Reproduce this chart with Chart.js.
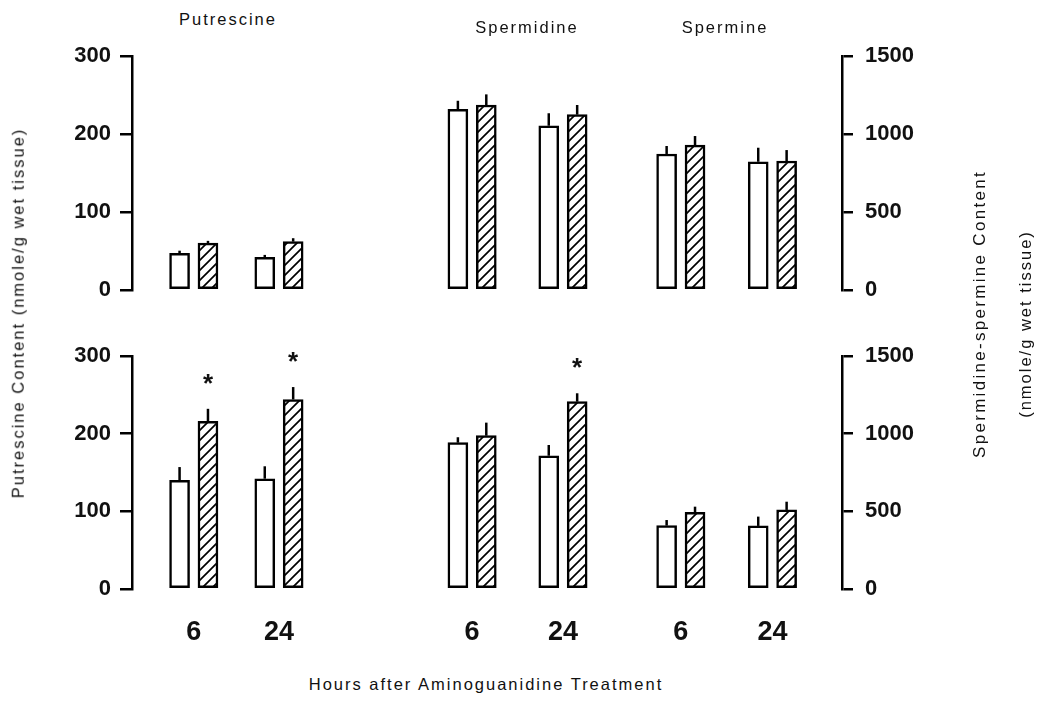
<!DOCTYPE html>
<html>
<head>
<meta charset="utf-8">
<title>Polyamine content after aminoguanidine treatment</title>
<script src="https://cdn.jsdelivr.net/npm/chart.js@4.4.1/dist/chart.umd.min.js"></script>
<style>
  html, body { margin: 0; padding: 0; background: #fff; }
  #fig { position: relative; width: 1042px; height: 702px; overflow: hidden;
         font-family: "Liberation Sans", Arial, Helvetica, sans-serif; color: #111; }
  #fig canvas { position: absolute; left: 0; }
  .lbl { position: absolute; white-space: nowrap; font-size: 16.5px; line-height: 16.5px; letter-spacing: 2px; }
  .ctr { transform: translateX(-50%); }
  .rot { transform: translate(-50%, -50%) rotate(-90deg); }
</style>
</head>
<body>
<div id="fig">
  <canvas id="upper" width="1042" height="286" style="top:30px"></canvas>
  <canvas id="lower" width="1042" height="340" style="top:330px"></canvas>
  <div class="lbl rot" style="left:18px; top:313px">Putrescine Content (nmole/g wet tissue)</div>
  <div class="lbl rot" style="left:980px; top:314px; font-size:17px; letter-spacing:2.3px">Spermidine-spermine Content</div>
  <div class="lbl rot" style="left:1025px; top:324px">(nmole/g wet tissue)</div>
  <div class="lbl ctr" style="left:486px; top:676px">Hours after Aminoguanidine Treatment</div>
</div>
<script>
// ---- data -------------------------------------------------------------
const compounds = ['Putrescine', 'Spermidine', 'Spermine'];
const hourLabels = ['6', '24'];
const putrescineTicks = [0, 100, 200, 300];        // nmole/g wet tissue
const polyamineTicks = [0, 500, 1000, 1500];       // nmole/g wet tissue

// Upper panel: mean and upper SE for control (open) and treated (hatched)
const upperPutOpen = [47, 42],     upperPutOpenSE = [3.4, 3.0];
const upperPutHatch = [60, 62],    upperPutHatchSE = [3.0, 4.4];
const upperSpdOpen = [1158, 1053], upperSpdOpenSE = [55, 80];
const upperSpdHatch = [1186, 1124], upperSpdHatchSE = [68, 62];
const upperSpmOpen = [872, 822],   upperSpmOpenSE = [51, 90];
const upperSpmHatch = [929, 827],  upperSpmHatchSE = [58, 70];

// Lower panel
const lowerPutOpen = [140, 142],   lowerPutOpenSE = [17, 16];
const lowerPutHatch = [216, 244],  lowerPutHatchSE = [16, 16];
const lowerSpdOpen = [942, 858],   lowerSpdOpenSE = [35, 69];
const lowerSpdHatch = [987, 1206], lowerSpdHatchSE = [84, 54];
const lowerSpmOpen = [408, 406],   lowerSpmOpenSE = [36, 60];
const lowerSpmHatch = [494, 509],  lowerSpmHatchSE = [36, 53];
// significant difference from control (asterisk)
const lowerPutHatchSig = [true, true];
const lowerSpdHatchSig = [false, true];

// ---- layout -----------------------------------------------------------
// centre of each 6 h / 24 h pair along a 0..100 horizontal axis
const groupCenters = [8.7, 20.7, 47.9, 60.7, 77.3, 90.2];
const pairOffset = 2.0;
const textFamily = '"Liberation Sans", Arial, Helvetica, sans-serif';

// compound headings
const headingPos = [[228, 11], [527, 19], [725, 19]];
compounds.forEach((name, i) => {
  const el = document.createElement('div');
  el.className = 'lbl ctr';
  el.style.left = headingPos[i][0] + 'px';
  el.style.top = headingPos[i][1] + 'px';
  el.textContent = name;
  document.getElementById('fig').appendChild(el);
});

// diagonal hatching for the treated bars
function makeHatch() {
  const c = document.createElement('canvas');
  c.width = 10; c.height = 10;
  const g = c.getContext('2d');
  g.fillStyle = '#fff';
  g.fillRect(0, 0, 10, 10);
  g.strokeStyle = '#000';
  g.lineWidth = 1.7;
  g.beginPath();
  g.moveTo(-2, 12); g.lineTo(12, -2);
  g.moveTo(-7, 7);  g.lineTo(7, -7);
  g.moveTo(3, 17);  g.lineTo(17, 3);
  g.stroke();
  return g.createPattern(c, 'repeat');
}
const hatch = makeHatch();

function points(firstGroup, side, means, errs, sig) {
  return means.map((m, i) => ({
    x: groupCenters[firstGroup + i] + side * pairOffset,
    y: m,
    se: errs[i],
    sig: sig ? sig[i] : false
  }));
}

const openStyle = { backgroundColor: '#fff', borderColor: '#000', borderWidth: 2.5,
                    borderSkipped: false, barThickness: 20, grouped: false };
const hatchStyle = Object.assign({}, openStyle, { backgroundColor: hatch });

function datasets(P) {
  return [
    Object.assign({}, openStyle, { label: 'Putrescine, control', yAxisID: 'yL',
      data: points(0, -1, P.putOpen, P.putOpenSE) }),
    Object.assign({}, hatchStyle, { label: 'Putrescine, aminoguanidine', yAxisID: 'yL',
      data: points(0, 1, P.putHatch, P.putHatchSE, P.putSig) }),
    Object.assign({}, openStyle, { label: 'Spermidine / spermine, control', yAxisID: 'yR',
      data: points(2, -1, P.spdOpen, P.spdOpenSE).concat(points(4, -1, P.spmOpen, P.spmOpenSE)) }),
    Object.assign({}, hatchStyle, { label: 'Spermidine / spermine, aminoguanidine', yAxisID: 'yR',
      data: points(2, 1, P.spdHatch, P.spdHatchSE, P.spdSig).concat(points(4, 1, P.spmHatch, P.spmHatchSE)) })
  ];
}

// upward SE whiskers and significance asterisks
const whiskers = {
  id: 'whiskers',
  afterDatasetsDraw(chart) {
    const ctx = chart.ctx;
    ctx.save();
    ctx.strokeStyle = '#000';
    ctx.lineWidth = 2.5;
    chart.data.datasets.forEach((ds, i) => {
      const meta = chart.getDatasetMeta(i);
      const ys = chart.scales[ds.yAxisID];
      meta.data.forEach((bar, j) => {
        const d = ds.data[j];
        const top = ys.getPixelForValue(d.y + d.se);
        ctx.beginPath();
        ctx.moveTo(bar.x, bar.y);
        ctx.lineTo(bar.x, top);
        ctx.stroke();
        if (d.sig) {
          ctx.font = 'bold 26px ' + textFamily;
          ctx.fillStyle = '#111';
          ctx.textAlign = 'center';
          ctx.textBaseline = 'alphabetic';
          ctx.fillText('*', bar.x, top - 17);
        }
      });
    });
    ctx.restore();
  }
};

function yScale(position, max, ticks, tickLen, pad, width) {
  return {
    position, min: 0, max,
    afterBuildTicks: s => { s.ticks = ticks.map(v => ({ value: v })); },
    afterFit: s => { s.width = width; },
    ticks: { color: '#111', padding: pad, font: { family: textFamily, size: 22, weight: 'bold' },
             callback: v => String(v) },
    grid: { drawOnChartArea: false, drawTicks: true, tickLength: tickLen, color: '#000', lineWidth: 2.5 },
    border: { display: true, color: '#000', width: 2.5 }
  };
}

function xScale(show) {
  return {
    type: 'linear', min: 0, max: 100, offset: false, display: show,
    afterBuildTicks: s => { s.ticks = groupCenters.map(v => ({ value: v })); },
    afterFit: s => { if (show) s.height = 71; },
    grid: { display: false, drawTicks: false, offset: false },
    border: { display: false },
    ticks: { autoSkip: false, maxRotation: 0, color: '#111', padding: 27,
             font: { family: textFamily, size: 27, weight: 'bold' },
             callback: (v, i) => hourLabels[i % hourLabels.length] }
  };
}

function makeChart(id, P, showX, padding) {
  return new Chart(document.getElementById(id), {
    type: 'bar',
    data: { datasets: datasets(P) },
    options: {
      responsive: false, animation: false, events: [],
      layout: { padding },
      plugins: { legend: { display: false }, tooltip: { enabled: false } },
      scales: {
        x: xScale(showX),
        yL: yScale('left', 300, putrescineTicks, 12, 9, 132),
        yR: yScale('right', 1500, polyamineTicks, 11, 12, 200)
      }
    },
    plugins: [whiskers]
  });
}

makeChart('upper', {
  putOpen: upperPutOpen, putOpenSE: upperPutOpenSE, putHatch: upperPutHatch, putHatchSE: upperPutHatchSE,
  spdOpen: upperSpdOpen, spdOpenSE: upperSpdOpenSE, spdHatch: upperSpdHatch, spdHatchSE: upperSpdHatchSE,
  spmOpen: upperSpmOpen, spmOpenSE: upperSpmOpenSE, spmHatch: upperSpmHatch, spmHatchSE: upperSpmHatchSE
}, false, { top: 26, bottom: 26, left: 0, right: 0 });

makeChart('lower', {
  putOpen: lowerPutOpen, putOpenSE: lowerPutOpenSE, putHatch: lowerPutHatch, putHatchSE: lowerPutHatchSE, putSig: lowerPutHatchSig,
  spdOpen: lowerSpdOpen, spdOpenSE: lowerSpdOpenSE, spdHatch: lowerSpdHatch, spdHatchSE: lowerSpdHatchSE, spdSig: lowerSpdHatchSig,
  spmOpen: lowerSpmOpen, spmOpenSE: lowerSpmOpenSE, spmHatch: lowerSpmHatch, spmHatchSE: lowerSpmHatchSE
}, true, { top: 26, bottom: 10, left: 0, right: 0 });
</script>
</body>
</html>
